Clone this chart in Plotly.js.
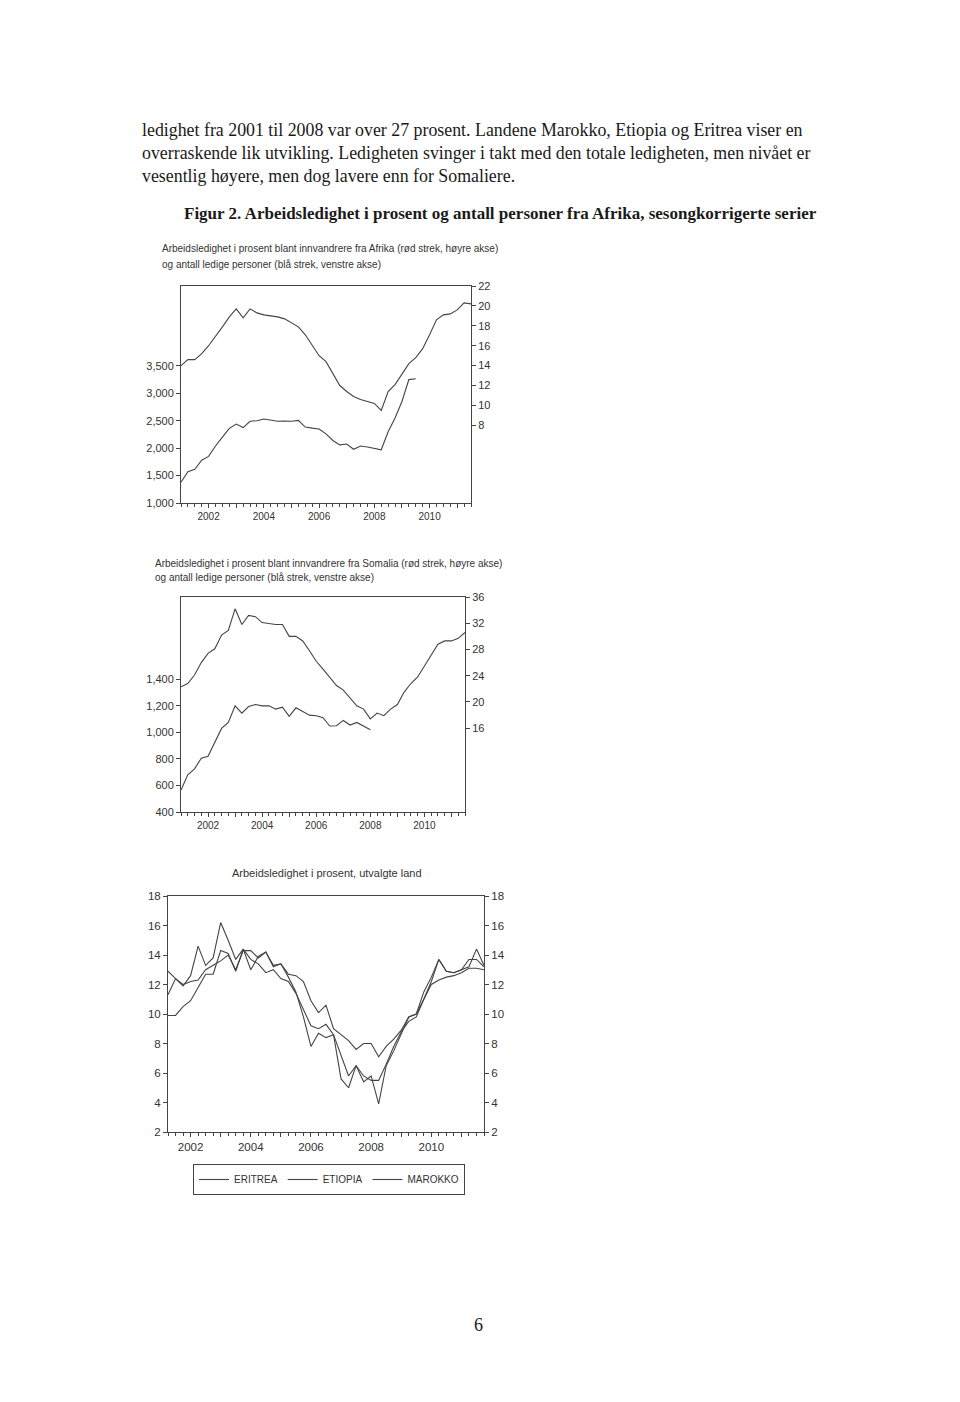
<!DOCTYPE html>
<html>
<head>
<meta charset="utf-8">
<script src="https://cdn.plot.ly/plotly-3.0.1.min.js"></script>
<style>
  html, body { margin: 0; padding: 0; background: #fff; }
  #graph { width: 960px; height: 1402px; }
</style>
</head>
<body>
<div id="graph"></div>
<script>
// quarterly series
var africaRate = [14.0, 14.6, 14.6, 15.2, 16.0, 16.9, 17.9, 18.9, 19.7, 18.8, 19.7, 19.3, 19.1, 19.0, 18.9,
    18.7, 18.3, 17.9, 17.1, 16.1, 15.0, 14.4, 13.2, 12.0, 11.4, 10.9, 10.6, 10.4, 10.2, 9.5, 11.4, 12.1,
    13.2, 14.2, 14.8, 15.7, 17.1, 18.6, 19.1, 19.2, 19.6, 20.3, 20.2];
var africaCount = [1380, 1570, 1615, 1780, 1850, 2040, 2200, 2360, 2440, 2375, 2490, 2500, 2530, 2510,
    2490, 2495, 2490, 2505, 2385, 2365, 2350, 2260, 2140, 2060, 2075, 1980, 2040, 2020, 1990, 1970, 2300,
    2550, 2850, 3250, 3265];

var somaliaRate = [22.3, 22.8, 24.1, 26.0, 27.4, 28.1, 30.2, 30.9, 34.2, 31.8, 33.2, 33.0, 32.1, 31.9,
    31.8, 31.8, 30.0, 30.0, 29.3, 27.8, 26.2, 25.0, 23.8, 22.5, 21.8, 20.6, 19.4, 18.9, 17.4, 18.3, 17.9,
    18.9, 19.6, 21.5, 22.8, 23.8, 25.5, 27.2, 28.8, 29.3, 29.3, 29.7, 30.6];
var somaliaCount = [565, 680, 725, 805, 820, 920, 1030, 1075, 1200, 1145, 1195, 1210, 1200, 1200, 1175,
    1190, 1120, 1185, 1160, 1130, 1125, 1110, 1048, 1050, 1090, 1055, 1075, 1050, 1020];

var eritrea = [11.3, 12.4, 11.9, 12.6, 14.6, 13.3, 13.8, 16.2, 15.0, 13.7, 14.4, 13.0, 13.9, 14.2, 13.2,
    13.4, 12.5, 11.5, 9.8, 7.8, 8.7, 8.4, 8.6, 5.6, 5.0, 6.5, 5.4, 5.8, 3.9, 6.5, 7.5, 8.7, 9.8, 10.0,
    11.5, 12.5, 13.7, 12.9, 12.8, 13.0, 13.2, 14.4, 13.3];
var etiopia = [12.9, 12.4, 12.0, 12.2, 12.3, 13.0, 13.3, 13.6, 14.0, 13.0, 14.3, 14.3, 13.8, 14.2, 13.3,
    13.4, 12.7, 12.6, 12.2, 10.9, 10.1, 10.6, 9.0, 8.6, 8.2, 7.6, 8.0, 8.0, 7.1, 7.8, 8.3, 8.9, 9.8, 10.0,
    11.0, 12.2, 13.7, 12.9, 12.8, 13.0, 13.7, 13.7, 13.2];
var marokko = [9.9, 9.9, 10.5, 10.9, 11.8, 12.7, 12.7, 14.3, 14.1, 12.9, 14.4, 13.7, 13.4, 12.8, 13.0,
    12.4, 12.2, 11.4, 10.3, 9.2, 9.0, 9.3, 8.6, 7.2, 5.8, 6.5, 5.8, 5.5, 5.5, 6.6, 7.8, 8.8, 9.5, 9.8,
    11.0, 12.0, 12.3, 12.5, 12.6, 12.8, 13.1, 13.1, 13.0];

var yearTicks = [2002, 2003, 2004, 2005, 2006, 2007, 2008, 2009, 2010, 2011];
var yearLabels = ['2002', '', '2004', '', '2006', '', '2008', '', '2010', ''];

var bodyLines = [
    'ledighet fra 2001 til 2008 var over 27 prosent. Landene Marokko, Etiopia og Eritrea viser en',
    'overraskende lik utvikling. Ledigheten svinger i takt med den totale ledigheten, men nivået er',
    'vesentlig høyere, men dog lavere enn for Somaliere.'
];

// decimal year for each quarter, starting at a given year/quarter
function quarters(year, q, n) {
    var out = [];
    for (var i = 0; i < n; i++) {
        out.push(year + (q - 1 + i) / 4);
    }
    return out;
}

var W = 960, H = 1402;
function px(x) { return x / W; }
function py(y) { return 1 - y / H; }

var ink = '#444';
var serif = 'Liberation Serif, Times New Roman, serif';
var sans = 'Liberation Sans, Arial, sans-serif';

function xAxis(left, right, range, yname, fontSize) {
    return {
        domain: [px(left), px(right)],
        anchor: yname,
        range: range,
        tickmode: 'array',
        tickvals: yearTicks,
        ticktext: yearLabels,
        ticks: 'outside',
        ticklen: 4,
        tickcolor: ink,
        showline: true,
        linecolor: ink,
        linewidth: 1,
        mirror: true,
        showgrid: false,
        zeroline: false,
        tickfont: {family: sans, size: fontSize, color: '#333'},
        minor: {tickmode: 'linear', tick0: 2001, dtick: 0.25, ticks: 'outside', ticklen: 2.5, tickcolor: ink, showgrid: false},
    };
}

function yAxis(top, bottom, range, vals, xname, side, fmt, fontSize, overlay) {
    var ax = {
        range: range,
        anchor: xname,
        side: side,
        tickmode: 'array',
        tickvals: vals,
        tickformat: fmt,
        ticks: 'outside',
        ticklen: 4,
        tickcolor: ink,
        showline: true,
        linecolor: ink,
        linewidth: 1,
        showgrid: false,
        zeroline: false,
        tickfont: {family: sans, size: fontSize, color: '#333'},
    };
    if (overlay) {
        ax.overlaying = overlay;
    } else {
        ax.domain = [py(bottom), py(top)];
    }
    return ax;
}

function line(x, y, xa, ya, name, show) {
    return {
        x: x, y: y, xaxis: xa, yaxis: ya, name: name,
        type: 'scatter', mode: 'lines',
        line: {color: ink, width: 1.1},
        showlegend: show,
        hoverinfo: 'skip',
    };
}

var data = [
    line(quarters(2001, 1, africaRate.length), africaRate, 'x', 'y2', 'Afrika prosent', false),
    line(quarters(2001, 1, africaCount.length), africaCount, 'x', 'y', 'Afrika antall', false),
    line(quarters(2001, 1, somaliaRate.length), somaliaRate, 'x2', 'y4', 'Somalia prosent', false),
    line(quarters(2001, 1, somaliaCount.length), somaliaCount, 'x2', 'y3', 'Somalia antall', false),
    line(quarters(2001, 2, eritrea.length), eritrea, 'x3', 'y5', 'ERITREA', true),
    line(quarters(2001, 2, etiopia.length), etiopia, 'x3', 'y5', 'ETIOPIA', true),
    // same scale on both sides, so this one sits on the right axis
    line(quarters(2001, 2, marokko.length), marokko, 'x3', 'y6', 'MAROKKO', true),
];

function note(text, x, y, anchor, font) {
    return {text: text, x: px(x), y: py(y), xref: 'paper', yref: 'paper',
        xanchor: anchor, yanchor: 'middle', showarrow: false, font: font};
}

var bodyFont = {family: serif, size: 17.85, color: '#1a1a1a'};
var smallFont = {family: sans, size: 10, color: '#333'};

var annotations = bodyLines.map(function (t, i) {
    return note(t, 140, 130 + i * 23, 'left', bodyFont);
});

annotations.push(
    note('<b>Figur 2. Arbeidsledighet i prosent og antall personer fra Afrika, sesongkorrigerte serier</b>',
        182, 214, 'left', {family: serif, size: 17, color: '#1a1a1a'}),
    note('Arbeidsledighet i prosent blant innvandrere fra Afrika (rød strek, høyre akse)', 160, 249, 'left', smallFont),
    note('og antall ledige personer (blå strek, venstre akse)', 160, 264, 'left', smallFont),
    note('Arbeidsledighet i prosent blant innvandrere fra Somalia (rød strek, høyre akse)', 153, 563, 'left', smallFont),
    note('og antall ledige personer (blå strek, venstre akse)', 153, 577, 'left', smallFont),
    note('Arbeidsledighet i prosent, utvalgte land', 327, 873, 'center', {family: sans, size: 11, color: '#333'}),
    note('6', 478, 1325, 'center', {family: serif, size: 18, color: '#1a1a1a'})
);

var layout = {
    width: W,
    height: H,
    margin: {l: 0, r: 0, t: 0, b: 0},
    paper_bgcolor: '#fff',
    plot_bgcolor: '#fff',
    showlegend: true,
    legend: {
        orientation: 'h',
        x: px(193), y: py(1164), xanchor: 'left', yanchor: 'top',
        bordercolor: ink, borderwidth: 1,
        font: {family: sans, size: 10, color: '#333'},
        itemwidth: 30,
        tracegroupgap: 0,
    },
    xaxis: xAxis(181, 471, [2001, 2011.5], 'y', 10),
    yaxis: yAxis(286, 503, [1000, 4956], [1000, 1500, 2000, 2500, 3000, 3500], 'x', 'left', ',d', 11),
    yaxis2: yAxis(286, 503, [0.2, 22], [8, 10, 12, 14, 16, 18, 20, 22], 'x', 'right', 'd', 11, 'y'),
    xaxis2: xAxis(181, 465, [2001, 2011.5], 'y3', 10),
    yaxis3: yAxis(597, 812, [400, 2020], [400, 600, 800, 1000, 1200, 1400], 'x2', 'left', ',d', 11),
    yaxis4: yAxis(597, 812, [3.2, 36], [16, 20, 24, 28, 32, 36], 'x2', 'right', 'd', 11, 'y3'),
    xaxis3: xAxis(168, 484, [2001.25, 2011.75], 'y5', 11.5),
    yaxis5: yAxis(896, 1132, [2, 18], [2, 4, 6, 8, 10, 12, 14, 16, 18], 'x3', 'left', 'd', 11.5),
    yaxis6: yAxis(896, 1132, [2, 18], [2, 4, 6, 8, 10, 12, 14, 16, 18], 'x3', 'right', 'd', 11.5, 'y5'),
    annotations: annotations,
};

Plotly.newPlot(document.getElementById('graph'), data, layout, {displayModeBar: false, staticPlot: true});
</script>
</body>
</html>
